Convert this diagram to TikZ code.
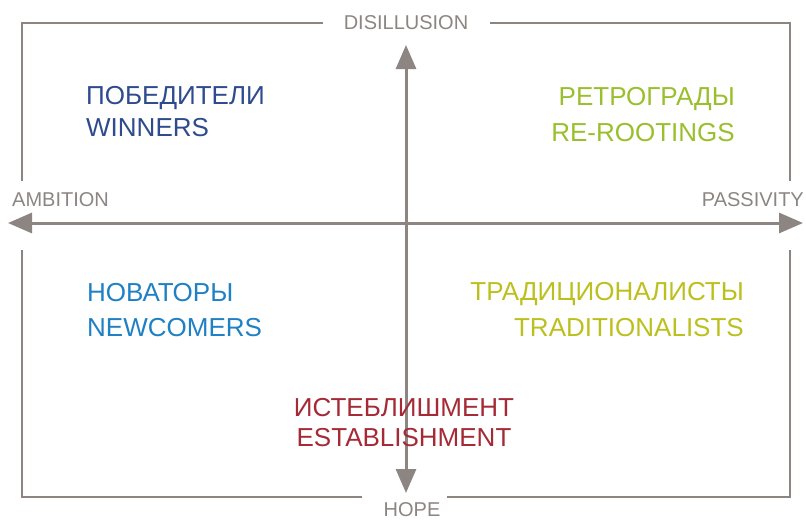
\documentclass[tikz,border=0pt]{standalone}
\usepackage{fontspec}
\setmainfont{Liberation Sans}
\usetikzlibrary{arrows.meta}

\definecolor{axisgray}{HTML}{8C8581}
\definecolor{winblue}{HTML}{2E4B8E}
\definecolor{rootgreen}{HTML}{9ABF2C}
\definecolor{newblue}{HTML}{1F80C4}
\definecolor{tradyellow}{HTML}{BCC01E}
\definecolor{estred}{HTML}{A52A36}

\begin{document}
\begin{tikzpicture}[x=1pt, y=-1pt,
  frame/.style = {draw=axisgray, line width=2pt},
  axis/.style = {draw=axisgray, line width=3pt, {Triangle[width=20pt,length=24pt]}-{Triangle[width=20pt,length=24pt]}},
  pole/.style = {text=axisgray, inner sep=0pt, font=\fontsize{20pt}{24pt}\selectfont},
  quad/.style = {inner sep=0pt, font=\fontsize{26pt}{#1}\selectfont},
  quad/.default = 32pt]
  \useasboundingbox (0,0) rectangle (806,522);

  % outer frame, broken at the four pole labels
  \draw[frame] (323,23) -- (22,23) -- (22,181);
  \draw[frame] (490,23) -- (790,23) -- (790,181);
  \draw[frame] (22,250) -- (22,497) -- (362,497);
  \draw[frame] (447,497) -- (790,497) -- (790,250);

  % axes
  \coordinate (ambend) at (8,223);
  \coordinate (pasend) at (803,223);
  \coordinate (disend) at (406,45);
  \coordinate (hopeend) at (406,493);
  \draw[axis] (ambend) -- (pasend);
  \draw[axis] (disend) -- (hopeend);

  % pole labels
  \node[pole] (disillusion) at (406,23) {DISILLUSION};
  \node[pole] (hope) at (412,510) {HOPE};
  \node[pole, anchor=west] (ambition) at (12,200) {AMBITION};
  \node[pole, anchor=east] (passivity) at (804,200) {PASSIVITY};

  % quadrants
  \node[quad, text=winblue, anchor=west, align=left] (winners) at (86,112) {ПОБЕДИТЕЛИ\\WINNERS};
  \node[quad=36pt, text=rootgreen, anchor=east, align=right] (rerootings) at (735,115) {РЕТРОГРАДЫ\\RE-ROOTINGS};
  \node[quad=35pt, text=newblue, anchor=west, align=left] (newcomers) at (87,310) {НОВАТОРЫ\\NEWCOMERS};
  \node[quad=36pt, text=tradyellow, anchor=east, align=right] (traditionalists) at (744,310) {ТРАДИЦИОНАЛИСТЫ\\TRADITIONALISTS};
  \node[quad=30pt, text=estred, align=center] (establishment) at (404,423) {ИСТЕБЛИШМЕНТ\\ESTABLISHMENT};
\end{tikzpicture}
\end{document}
